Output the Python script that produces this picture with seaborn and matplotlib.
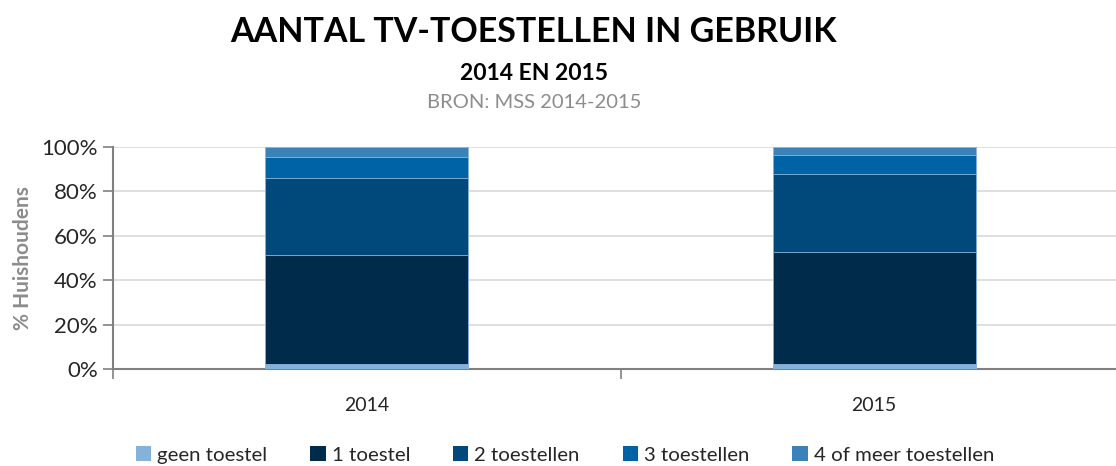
import matplotlib.pyplot as plt
import seaborn as sns
import pandas as pd
import numpy as np
from matplotlib.patches import Patch

years = ['2014', '2015']
categories = ['geen toestel', '1 toestel', '2 toestellen', '3 toestellen', '4 of meer toestellen']
geen = [2.4, 2.4]
een = [49.1, 50.2]
twee = [34.5, 35.2]
drie = [9.5, 8.6]
vier = [4.5, 3.6]
colors = ['#86B1DA', '#002B4A', '#00497A', '#0063A6', '#3A82B8']

sns.set_style("white")
plt.rcParams['font.family'] = ['Lato', 'DejaVu Sans']

series = [geen, een, twee, drie, vier]
cum = np.cumsum(np.array(series), axis=0)

fig = plt.figure(figsize=(11.16, 4.66), dpi=100)
ax = fig.add_axes([113 / 1116, 1 - 369 / 466, (1128 - 113) / 1116, (369 - 146.7) / 466])

# stacked bars: draw biggest cumulative first so lower segments sit on top
for i in range(len(series) - 1, -1, -1):
    df = pd.DataFrame({'jaar': years, 'waarde': cum[i]})
    sns.barplot(data=df, x='jaar', y='waarde', color=colors[i], width=0.4,
                edgecolor='#8fb6dc', linewidth=0.6, saturation=1, ax=ax, zorder=3)

ax.set_xlim(-0.5, 1.5)
ax.set_ylim(0, 100)
ax.set_yticks(range(0, 101, 20))
ax.set_yticklabels([f'{v}%' for v in range(0, 101, 20)], fontsize=16)
ax.set_xticks([0, 1])
ax.set_xticklabels(years, fontsize=14)
ax.yaxis.grid(True, color='#d9d9d9', linewidth=1.2, zorder=0)
ax.set_axisbelow(True)
ax.set_xlabel(None)
ax.set_ylabel('% Huishoudens', fontsize=15, color='#8c8c8c', fontweight='bold', labelpad=6)
ax.tick_params(axis='y', length=7, color='#808080', width=1.2, pad=4, left=True)
ax.tick_params(axis='x', which='major', length=0, pad=20)
ax.set_xticks([-0.5, 0.5, 1.5], minor=True)
ax.tick_params(axis='x', which='minor', length=7, color='#808080', width=1.2, bottom=True)
for s in ['top', 'right']:
    ax.spines[s].set_visible(False)
for s in ['left', 'bottom']:
    ax.spines[s].set_color('#808080')
    ax.spines[s].set_linewidth(1.5)

fig.text(534 / 1116, 1 - 32 / 466, 'AANTAL TV-TOESTELLEN IN GEBRUIK', ha='center', va='center',
         fontsize=24.5, fontweight='bold', color='black')
fig.text(534 / 1116, 1 - 73 / 466, '2014 EN 2015', ha='center', va='center',
         fontsize=16.5, fontweight='bold', color='black')
fig.text(534 / 1116, 1 - 103 / 466, 'BRON: MSS 2014-2015', ha='center', va='center',
         fontsize=14.5, color='#8c8c8c')

handles = [Patch(facecolor=c, edgecolor='none') for c in colors]
fig.legend(handles, categories, loc='center', bbox_to_anchor=(565 / 1116, 1 - 455 / 466),
           ncol=5, frameon=False, fontsize=14.7, handlelength=0.75, handleheight=0.75,
           handletextpad=0.3, columnspacing=2.1)

fig.savefig('out.png', dpi=100)
